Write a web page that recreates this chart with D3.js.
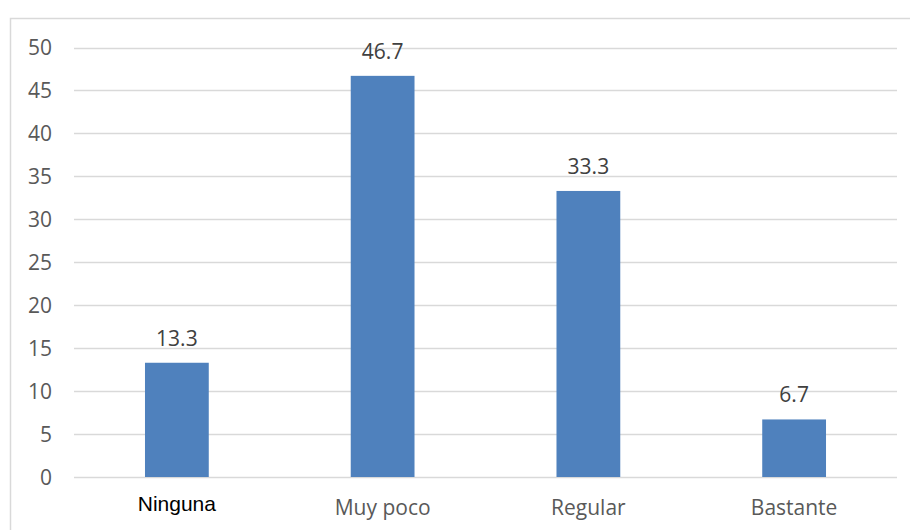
<!DOCTYPE html>
<html><head><meta charset="utf-8">
<script src="https://cdn.jsdelivr.net/npm/d3@7"></script>
<style>body{margin:0;background:#fff}</style>
</head><body><svg id="c" width="910" height="530"></svg>
<script>
const categories = ["Ninguna", "Muy poco", "Regular", "Bastante"];
const values = [13.3, 46.7, 33.3, 6.7];
const yTicks = [0, 5, 10, 15, 20, 25, 30, 35, 40, 45, 50];

const svg = d3.select("#c");
const W = 910, H = 530;
const m = {left: 74, right: 13, top: 47.5, bottom: 53};
const x = d3.scaleBand().domain(categories).range([m.left, W - m.right]).paddingInner(0.69).paddingOuter(0.345);
const y = d3.scaleLinear().domain([0, 50]).range([H - m.bottom, m.top]);

// outer border
svg.append("rect").attr("x", 10.5).attr("y", 18.5).attr("width", 920).attr("height", 540)
  .attr("fill", "none").attr("stroke", "#d9d9d9").attr("stroke-width", 1.5);

// gridlines
svg.append("g").selectAll("line").data(yTicks).join("line")
  .attr("x1", m.left).attr("x2", W - m.right)
  .attr("y1", d => Math.round(y(d)) + 0.5).attr("y2", d => Math.round(y(d)) + 0.5)
  .attr("stroke", "#d9d9d9").attr("stroke-width", 1.5);

// y tick labels
svg.append("g").selectAll("text").data(yTicks).join("text")
  .attr("x", 52).attr("y", d => y(d) + 7.5)
  .attr("text-anchor", "end").attr("font-family", "Open Sans").attr("font-size", 21)
  .attr("fill", "#595959").text(d => d);

// bars
svg.append("g").selectAll("rect").data(values).join("rect")
  .attr("x", (d, i) => x(categories[i])).attr("width", x.bandwidth())
  .attr("y", d => y(d)).attr("height", d => y(0) - y(d))
  .attr("fill", "#4f81bd");

// data labels
svg.append("g").selectAll("text").data(values).join("text")
  .attr("x", (d, i) => x(categories[i]) + x.bandwidth() / 2).attr("y", d => y(d) - 17)
  .attr("text-anchor", "middle").attr("font-family", "Open Sans").attr("font-size", 21)
  .attr("fill", "#404040").text(d => d.toFixed(1));

// category labels
svg.append("g").selectAll("text").data(categories).join("text")
  .attr("x", d => x(d) + x.bandwidth() / 2).attr("y", (d, i) => i === 0 ? 511 : 514.5)
  .attr("text-anchor", "middle")
  .attr("font-family", (d, i) => i === 0 ? "Liberation Sans" : "Open Sans")
  .attr("font-size", 21)
  .attr("fill", (d, i) => i === 0 ? "#000" : "#595959").text(d => d);
</script></body></html>
